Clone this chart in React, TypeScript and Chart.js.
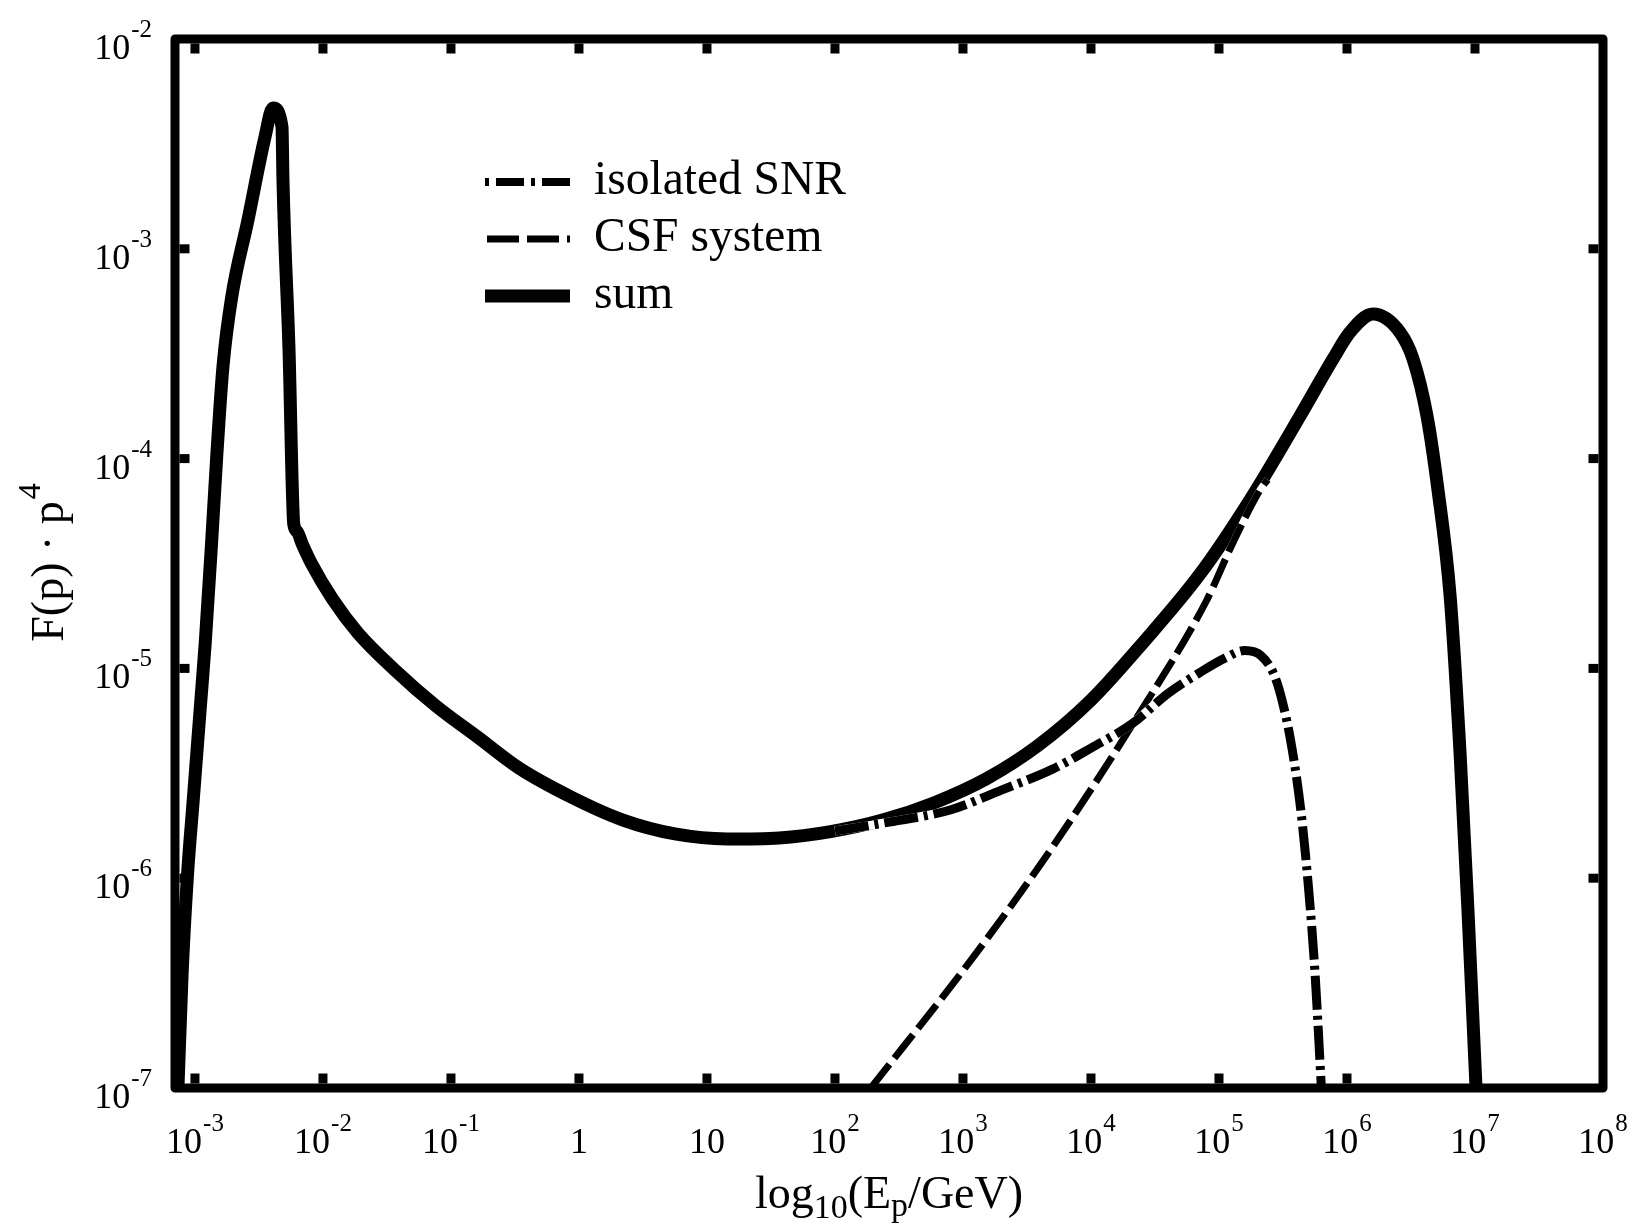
import React, { useEffect, useRef } from 'react';
import { Chart, registerables } from 'chart.js';

Chart.register(...registerables);

// ---- Data (log10 values) ----
const sumLogE = [
  -3.133, -3.10, -3.06, -3.01, -2.96, -2.92, -2.87, -2.83, -2.781, -2.713, -2.586, -2.453, -2.391,
  -2.32, -2.3125, -2.266, -2.228, -2.205, -2.16, -2.09, -1.925, -1.727, -1.441, -1.117, -0.792,
  -0.469, -0.062, 0.344, 0.75, 1.156, 1.563, 1.966, 2.372, 2.777, 3.183, 3.588, 3.994, 4.4,
  4.852, 5.242, 5.633, 5.891, 6.023, 6.203, 6.414, 6.516, 6.625, 6.711, 6.805, 6.883, 6.945, 7.008,
];
const sumLogF = [
  -7.0, -6.45, -6.0, -5.6, -5.2, -4.88, -4.4, -3.99, -3.56, -3.23, -2.863, -2.467, -2.329,
  -2.419, -2.672, -3.467, -4.313, -4.345, -4.41, -4.50, -4.67, -4.831, -5.006, -5.179, -5.327,
  -5.475, -5.613, -5.723, -5.789, -5.813, -5.808, -5.778, -5.723, -5.64, -5.526, -5.367, -5.155, -4.882,
  -4.55, -4.197, -3.797, -3.525, -3.398, -3.311, -3.398, -3.525, -3.797, -4.15, -4.65, -5.4, -6.152, -7.0,
];

const snrLogE = [2.0, 2.4, 2.9, 3.3, 3.7, 4.0, 4.33, 4.6, 4.85, 5.05, 5.2, 5.33, 5.43, 5.5, 5.57, 5.64, 5.7, 5.75, 5.8];
const snrLogF = [-5.775, -5.735, -5.675, -5.58, -5.48, -5.38, -5.26, -5.12, -5.02, -4.95, -4.915, -4.94, -5.03, -5.17, -5.38, -5.68, -6.05, -6.45, -7.0];

const csfLogE = [2.28, 3.08, 3.70, 4.38, 4.90, 5.11, 5.32, 5.38];
const csfLogF = [-7.0, -6.376, -5.851, -5.213, -4.68, -4.40, -4.15, -4.10];

const xTickExps = [-3, -2, -1, 0, 1, 2, 3, 4, 5, 6, 7, 8];
const yTickExps = [-7, -6, -5, -4, -3, -2];
const xMinExp = -3.156;

const legendLabels = ['isolated SNR', 'CSF system', 'sum'];

const SERIF = '"Liberation Serif", "Times New Roman", serif';

const toPoints = (e: number[], f: number[]) => e.map((v, i) => ({ x: Math.pow(10, v), y: Math.pow(10, f[i]) }));

const SNR_DASH = [34, 6, 4, 6];
const CSF_DASH = [30, 8];

function powLabel(exp: number): [string, string] {
  if (exp === 0) return ['1', ''];
  if (exp === 1) return ['10', ''];
  return ['10', String(exp)];
}

function drawPow(ctx: any, base: string, sup: string, x: number, baseY: number, align: string) {
  ctx.font = `36px ${SERIF}`;
  const bw = ctx.measureText(base).width;
  ctx.font = `25px ${SERIF}`;
  const sw = sup ? ctx.measureText(sup).width + 1 : 0;
  const total = bw + sw;
  const left = align === 'center' ? x - total / 2 : x - total;
  ctx.textAlign = 'left';
  ctx.textBaseline = 'alphabetic';
  ctx.font = `36px ${SERIF}`;
  ctx.fillText(base, left, baseY);
  if (sup) {
    ctx.font = `25px ${SERIF}`;
    ctx.fillText(sup, left + bw + 1, baseY - 22);
  }
}

const decorPlugin = {
  id: 'decor',
  afterDraw(chart: any) {
    const { ctx, chartArea: a, scales } = chart;
    const xs = scales.x;
    const ys = scales.y;
    ctx.save();
    ctx.fillStyle = '#000';
    ctx.strokeStyle = '#000';

    // frame
    ctx.lineWidth = 9;
    ctx.lineJoin = 'round';
    ctx.setLineDash([]);
    ctx.strokeRect(a.left, a.top, a.right - a.left, a.bottom - a.top);

    // inner ticks
    const tl = 10;
    const tw = 9;
    xTickExps.forEach((e) => {
      const px = xs.getPixelForValue(Math.pow(10, e));
      if (px > a.left + 8 && px < a.right - 8) {
        ctx.fillRect(px - tw / 2, a.bottom - 4.5 - tl, tw, tl);
        ctx.fillRect(px - tw / 2, a.top + 4.5, tw, tl);
      }
    });
    yTickExps.forEach((e) => {
      const py = ys.getPixelForValue(Math.pow(10, e));
      if (py > a.top + 8 && py < a.bottom - 8) {
        ctx.fillRect(a.left + 4.5, py - tw / 2, tl, tw);
        ctx.fillRect(a.right - 4.5 - tl, py - tw / 2, tl, tw);
      }
    });

    // tick labels
    xTickExps.forEach((e) => {
      const px = xs.getPixelForValue(Math.pow(10, e));
      const [b, s] = powLabel(e);
      drawPow(ctx, b, s, px, a.bottom + 65, 'center');
    });
    yTickExps.forEach((e) => {
      const py = ys.getPixelForValue(Math.pow(10, e));
      const [b, s] = powLabel(e);
      drawPow(ctx, b, s, a.left - 23, py + 20, 'right');
    });

    // x title: log10(Ep/GeV)
    const main = `46px ${SERIF}`;
    const sub = `34px ${SERIF}`;
    const pieces: [string, string, number][] = [
      ['log', main, 0],
      ['10', sub, 10],
      ['(E', main, 0],
      ['p', sub, 8],
      ['/GeV)', main, 0],
    ];
    let total = 0;
    pieces.forEach(([t, f]) => {
      ctx.font = f;
      total += ctx.measureText(t).width;
    });
    let cx = (a.left + a.right) / 2 - total / 2;
    const by = a.bottom + 120;
    ctx.textAlign = 'left';
    pieces.forEach(([t, f, dy]) => {
      ctx.font = f;
      ctx.fillText(t, cx, by + dy);
      cx += ctx.measureText(t).width;
    });

    // y title: F(p) · p^4
    ctx.save();
    ctx.translate(63, (a.top + a.bottom) / 2);
    ctx.rotate(-Math.PI / 2);
    ctx.font = main;
    const mt = 'F(p) \u00b7 p';
    const mw = ctx.measureText(mt).width;
    ctx.font = `32px ${SERIF}`;
    const sw = ctx.measureText('4').width;
    const start = -(mw + sw) / 2;
    ctx.font = main;
    ctx.fillText(mt, start, 0);
    ctx.font = `32px ${SERIF}`;
    ctx.fillText('4', start + mw + 2, -23);
    ctx.restore();

    // legend
    const lx0 = 485;
    const lx1 = 570;
    const rows = [182, 239, 296];
    ctx.lineCap = 'butt';
    // isolated SNR
    ctx.lineWidth = 8;
    ctx.setLineDash([4, 7, 28, 7]);
    ctx.beginPath();
    ctx.moveTo(lx0, rows[0]);
    ctx.lineTo(lx1, rows[0]);
    ctx.stroke();
    // CSF system
    ctx.lineWidth = 7;
    ctx.setLineDash([32, 8]);
    ctx.beginPath();
    ctx.moveTo(lx0 + 2, rows[1]);
    ctx.lineTo(lx1, rows[1]);
    ctx.stroke();
    // sum
    ctx.lineWidth = 13;
    ctx.setLineDash([]);
    ctx.beginPath();
    ctx.moveTo(lx0, rows[2]);
    ctx.lineTo(lx1, rows[2]);
    ctx.stroke();

    ctx.font = `47.5px ${SERIF}`;
    ctx.textAlign = 'left';
    legendLabels.forEach((t, i) => {
      ctx.fillText(t, 594, rows[i] + 12);
    });

    ctx.restore();
  },
};

export default function App() {
  const ref = useRef<HTMLCanvasElement | null>(null);

  useEffect(() => {
    const canvas = ref.current;
    if (!canvas) return;
    const sumPts = toPoints(sumLogE, sumLogF);
    const snrPts = toPoints(snrLogE, snrLogF);
    const csfPts = toPoints(csfLogE, csfLogF);
    const common = {
      pointRadius: 0,
      pointHoverRadius: 0,
      fill: false,
      cubicInterpolationMode: 'monotone',
      borderCapStyle: 'butt',
    };
    const chart = new Chart(canvas, {
      type: 'line',
      data: {
        datasets: [
          { ...common, label: 'sum', data: sumPts, borderColor: '#000', borderWidth: 13, order: 5 },
          { ...common, label: 'csf-bg', data: csfPts, borderColor: '#fff', borderWidth: 7, order: 4 },
          { ...common, label: legendLabels[1], data: csfPts, borderColor: '#000', borderWidth: 7, borderDash: CSF_DASH, order: 3 },
          { ...common, label: 'snr-bg', data: snrPts, borderColor: '#fff', borderWidth: 9, order: 2 },
          { ...common, label: legendLabels[0], data: snrPts, borderColor: '#000', borderWidth: 9, borderDash: SNR_DASH, order: 1 },
        ] as any,
      },
      options: {
        animation: false,
        responsive: false,
        maintainAspectRatio: false,
        events: [],
        layout: { padding: { left: 175, right: 25, top: 39, bottom: 135 } },
        scales: {
          x: { type: 'logarithmic', min: Math.pow(10, xMinExp), max: 1e8, display: false },
          y: { type: 'logarithmic', min: 1e-7, max: 1e-2, display: false },
        },
        plugins: { legend: { display: false }, tooltip: { enabled: false } },
      } as any,
      plugins: [decorPlugin],
    });
    return () => chart.destroy();
  }, []);

  return (
    <div style={{ position: 'fixed', left: 0, top: 0, width: 1628, height: 1223, background: '#fff' }}>
      <canvas ref={ref} width={1628} height={1223} style={{ width: 1628, height: 1223, display: 'block' }} />
    </div>
  );
}
